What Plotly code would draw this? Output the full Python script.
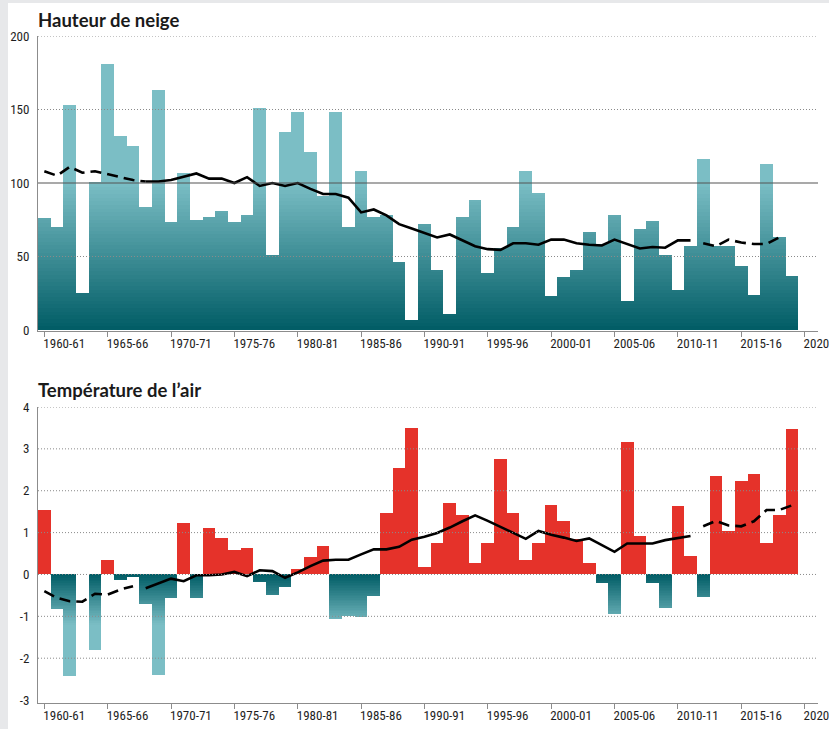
import plotly.graph_objects as go
from plotly.subplots import make_subplots

# ---------------- data ----------------
# winter season identified by its starting year (1960 -> "1960-61")
seasons = list(range(1960, 2020))

snow_height = [76, 70, 153, 25, 101, 181, 132, 125, 84, 163,
               73, 107, 75, 77, 81, 73, 78, 151, 51, 135,
               148, 121, 91, 148, 70, 108, 77, 78, 46, 7,
               72, 41, 11, 77, 88, 39, 56, 70, 108, 93,
               23, 36, 41, 67, 58, 78, 20, 69, 74, 51,
               27, 57, 116, 57, 57, 43, 24, 113, 63, 37]

snow_mean = [108, 105, 111, 107, 108, 106, 104, 102, 101, 101,
             102, 104, 106.5, 103, 103, 100, 104, 98, 100, 98,
             100, 96, 92.5, 92.5, 90, 80, 82, 78, 72, 69,
             66, 63, 65, 61, 57, 55, 54.5, 59, 59, 58,
             61.5, 61.5, 59, 58, 57.5, 61.5, 58.5, 55.5, 56.5, 56,
             61, 61, 59, 57, 61.5, 59.5, 58.5, 58.5, 63]

temp_anomaly = [1.54, -0.82, -2.43, 0.0, -1.8, 0.35, -0.13, -0.04, -0.69, -2.4,
                -0.54, 1.23, -0.56, 1.1, 0.86, 0.58, 0.64, -0.17, -0.49, -0.29,
                0.12, 0.41, 0.68, -1.05, -0.98, -1.0, -0.5, 1.48, 2.55, 3.51,
                0.19, 0.76, 1.71, 1.41, 0.27, 0.76, 2.76, 1.46, 0.34, 0.76,
                1.66, 1.28, 0.85, 0.27, -0.2, -0.93, 3.17, 0.93, -0.2, -0.79,
                1.63, 0.43, -0.53, 2.35, 1.05, 2.23, 2.41, 0.76, 1.43, 3.48]

temp_mean = [-0.40, -0.56, -0.64, -0.65, -0.46, -0.48, -0.36, -0.28, -0.33, -0.22,
             -0.10, -0.16, -0.02, -0.02, 0.0, 0.06, -0.04, 0.10, 0.08, -0.08,
             0.05, 0.20, 0.33, 0.35, 0.35, 0.48, 0.60, 0.60, 0.66, 0.83,
             0.90, 0.99, 1.12, 1.27, 1.41, 1.28, 1.13, 0.98, 0.85, 1.04,
             0.95, 0.88, 0.80, 0.86, 0.70, 0.54, 0.74, 0.74, 0.74, 0.82,
             0.87, 0.92, 1.15, 1.28, 1.17, 1.15, 1.27, 1.54, 1.54, 1.65]

# moving-average segments (index ranges): dashed early, solid middle, dashed late
snow_segments = {"early": (0, 8), "solid": (8, 51), "late": (52, 58)}
temp_segments = {"early": (0, 7), "solid": (8, 51), "late": (52, 59)}

x_tick_vals = [1960, 1965, 1970, 1975, 1980, 1985, 1990, 1995, 2000, 2005, 2010, 2015, 2020]
x_tick_text = ["1960-61", "1965-66", "1970-71", "1975-76", "1980-81", "1985-86",
               "1990-91", "1995-96", "2000-01", "2005-06", "2010-11", "2015-16", "2020"]
snow_ticks = [0, 50, 100, 150, 200]
temp_ticks = [-3, -2, -1, 0, 1, 2, 3, 4]
temp_tick_text = ["-3", "-2", "-1", "0", "1", "2", "3", "4"]
SNOW_REFERENCE = 100

# ---------------- styles ----------------
DARK = (0, 92, 101)
LIGHT = (123, 190, 197)
RED = "#e5322a"
TICK_FONT = dict(family="Liberation Sans Narrow, Roboto Condensed, DejaVu Sans Condensed, Arial Narrow, Lato, sans-serif",
                 size=13, color="#1e1e1e")
AXIS_COLOR = "#8c8c8c"
GRID_COLOR = "#8a8a8a"


def mix(t):
    t = max(0.0, min(1.0, t))
    c = [round(DARK[i] + (LIGHT[i] - DARK[i]) * t) for i in range(3)]
    return "rgb(%d,%d,%d)" % tuple(c)


def gradient_slices(xs, vals, span, step, negative=False):
    """Stack of overlapping slices so the fill fades from DARK (at 0) to LIGHT (at |span|)."""
    bx, bbase, by, bcol = [], [], [], []
    nsteps = int(round(span / step))
    for x, v in zip(xs, vals):
        if v is None:
            continue
        mag = -v if negative else v
        if mag <= 0:
            continue
        for k in range(nsteps + 1):
            lev = k * step
            if lev >= mag:
                break
            col = mix((lev + step / 2) / span)
            if negative:
                bbase.append(v)
                by.append(-lev - v)
            else:
                bbase.append(lev)
                by.append(v - lev)
            bx.append(x)
            bcol.append(col)
    return bx, bbase, by, bcol


def seg(xs, ys, rng):
    a, b = rng
    return xs[a:b + 1], ys[a:b + 1]


fig = make_subplots(rows=2, cols=1)

# ---- snow bars (gradient) ----
bx, bbase, by, bcol = gradient_slices(seasons, snow_height, 100.0, 2.5)
fig.add_trace(go.Bar(x=bx, y=by, base=bbase, width=1.0,
                     marker=dict(color=bcol, line=dict(width=0)),
                     hoverinfo="skip", showlegend=False), row=1, col=1)

# ---- snow mean line ----
ex, ey = seg(seasons, snow_mean, snow_segments["early"])
lx, ly = seg(seasons, snow_mean, snow_segments["late"])
sx, sy = seg(seasons, snow_mean, snow_segments["solid"])
fig.add_trace(go.Scatter(x=ex + [None] + lx, y=ey + [None] + ly, mode="lines",
                         line=dict(color="black", width=2.6, dash="11px,6px"),
                         connectgaps=False, hoverinfo="skip", showlegend=False), row=1, col=1)
fig.add_trace(go.Scatter(x=sx, y=sy, mode="lines", line=dict(color="black", width=2.6),
                         hoverinfo="skip", showlegend=False), row=1, col=1)

# ---- temperature bars ----
pos_vals = [v if v > 0 else None for v in temp_anomaly]
fig.add_trace(go.Bar(x=seasons, y=pos_vals, width=1.0,
                     marker=dict(color=RED, line=dict(width=0)),
                     hoverinfo="skip", showlegend=False), row=2, col=1)
neg_vals = [v if v < 0 else None for v in temp_anomaly]
bx, bbase, by, bcol = gradient_slices(seasons, neg_vals, 1.2, 0.04, negative=True)
fig.add_trace(go.Bar(x=bx, y=by, base=bbase, width=1.0,
                     marker=dict(color=bcol, line=dict(width=0)),
                     hoverinfo="skip", showlegend=False), row=2, col=1)

ex, ey = seg(seasons, temp_mean, temp_segments["early"])
lx, ly = seg(seasons, temp_mean, temp_segments["late"])
sx, sy = seg(seasons, temp_mean, temp_segments["solid"])
fig.add_trace(go.Scatter(x=ex + [None] + lx, y=ey + [None] + ly, mode="lines",
                         line=dict(color="black", width=2.6, dash="11px,6px"),
                         connectgaps=False, hoverinfo="skip", showlegend=False), row=2, col=1)
fig.add_trace(go.Scatter(x=sx, y=sy, mode="lines", line=dict(color="black", width=2.6),
                         hoverinfo="skip", showlegend=False), row=2, col=1)

# ---- gridlines drawn above the bars ----
GRID_DASH = "1px,2px"
shapes = []
for t in snow_ticks:
    if t == 0:
        continue
    if t == SNOW_REFERENCE:
        shapes.append(dict(type="line", xref="x domain", x0=0, x1=1, yref="y", y0=t, y1=t,
                           line=dict(color="#555555", width=1.2), layer="above"))
    else:
        shapes.append(dict(type="line", xref="x domain", x0=0, x1=1, yref="y", y0=t, y1=t,
                           line=dict(color=GRID_COLOR, width=1, dash=GRID_DASH), layer="above"))
for t in temp_ticks:
    if t == temp_ticks[0]:
        continue
    shapes.append(dict(type="line", xref="x2 domain", x0=0, x1=1, yref="y2", y0=t, y1=t,
                       line=dict(color=GRID_COLOR, width=1, dash=GRID_DASH), layer="above"))

# page frame (light grey strips at left and top)
shapes.append(dict(type="rect", xref="paper", yref="paper", x0=-0.06, x1=-0.0385, y0=-0.1, y1=1.1,
                   fillcolor="#e7e8ea", line=dict(width=0), layer="below"))
shapes.append(dict(type="rect", xref="paper", yref="paper", x0=-0.06, x1=1.05, y0=1.0495, y1=1.1,
                   fillcolor="#e7e8ea", line=dict(width=0), layer="below"))

title_font = dict(family="Lato, Open Sans, sans-serif", size=18.5, color="#1a1a1a")
annotations = [
    dict(text="<b>Hauteur de neige</b>", xref="paper", yref="paper", x=-0.003, y=1.024,
         xanchor="left", yanchor="middle", showarrow=False, font=title_font),
    dict(text="<b>Température de l’air</b>", xref="paper", yref="paper", x=-0.003, y=0.469,
         xanchor="left", yanchor="middle", showarrow=False, font=title_font),
]

xaxis_common = dict(range=[1959.5, 2021.06], tickmode="array", tickvals=x_tick_vals,
                    ticktext=x_tick_text, ticks="outside", ticklen=5, tickcolor=AXIS_COLOR,
                    tickwidth=1, showline=True, linecolor=AXIS_COLOR, linewidth=1,
                    showgrid=False, zeroline=False, tickfont=TICK_FONT,
                    ticklabelposition="outside right", ticklabeloverflow="allow",
                    ticklabelshift=-2, automargin=False, fixedrange=True)
yaxis_common = dict(showline=True, linecolor=AXIS_COLOR, linewidth=1, showgrid=False,
                    zeroline=False, ticks="", tickfont=TICK_FONT, ticklabelstandoff=5,
                    ticklabeloverflow="allow", automargin=False, fixedrange=True)

fig.update_layout(
    width=829, height=729,
    margin=dict(l=38, r=11, t=36, b=26, autoexpand=False),
    paper_bgcolor="white", plot_bgcolor="white",
    barmode="overlay", bargap=0,
    shapes=shapes, annotations=annotations,
    xaxis=dict(**xaxis_common, anchor="y"),
    xaxis2=dict(**xaxis_common, anchor="y2"),
    yaxis=dict(**yaxis_common, domain=[0.5577, 1.0], range=[-0.68, 200],
               tickmode="array", tickvals=snow_ticks, ticktext=[str(t) for t in snow_ticks]),
    yaxis2=dict(**yaxis_common, domain=[0.0, 0.4438], range=[-3.07, 4],
                tickmode="array", tickvals=temp_ticks, ticktext=temp_tick_text),
)

fig.write_html("out.html", config={"displayModeBar": False},
               post_script="document.body.style.margin='0';document.body.style.overflow='hidden';")
